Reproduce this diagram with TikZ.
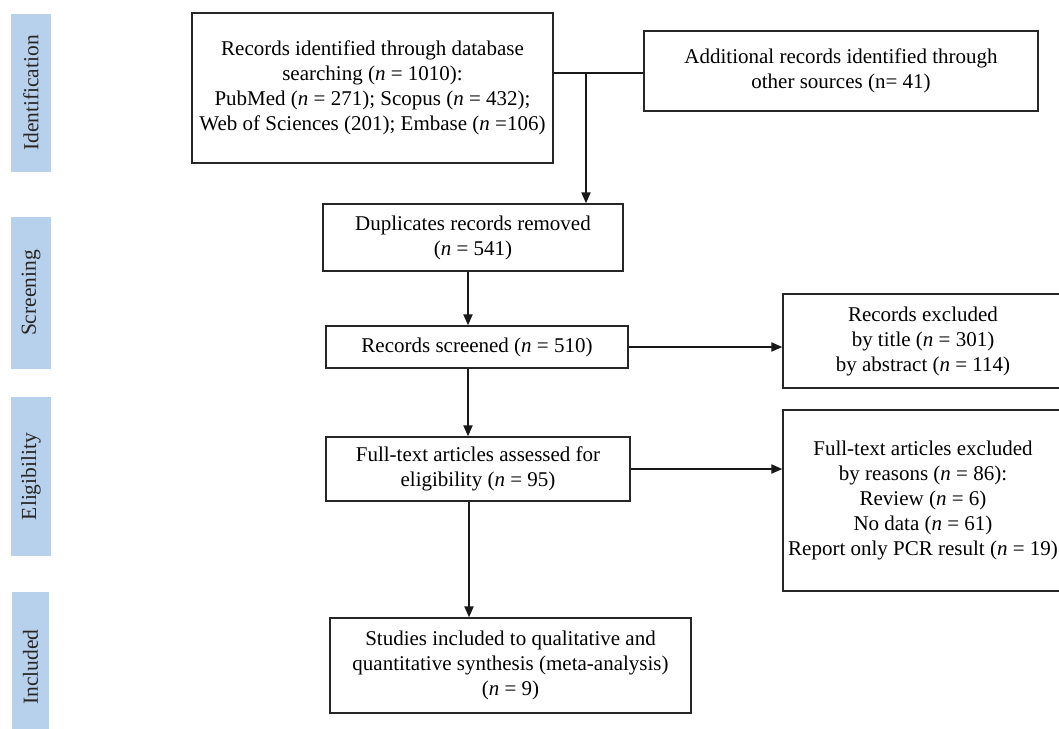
\documentclass[tikz,border=0pt]{standalone}
\usepackage{fontspec}
\setmainfont{Liberation Serif}
\usetikzlibrary{arrows.meta}
\tikzset{
  box/.style={draw=black!85, line width=1.3pt, fill=white, align=center, inner sep=0pt,
    font=\fontsize{21}{25}\selectfont},
  phase/.style={fill=phaseblue, inner sep=0pt, rotate=90, font=\fontsize{21.5}{25}\selectfont, text=black!85},
  arr/.style={line width=2pt, black!90, -{Triangle[length=11pt,width=9pt]}},
  ln/.style={line width=1.3pt, black!90}
}
\definecolor{phaseblue}{RGB}{183,208,236}
\newcommand{\nn}{\textit{n}}
\begin{document}
\begin{tikzpicture}[x=1pt,y=-1pt]
\clip (0,0) rectangle (1059,728);
\fill[white] (0,0) rectangle (1059,728);
% phase labels
\node[phase, minimum width=158pt, minimum height=40pt] (pid) at (31,93) {Identification};
\node[phase, minimum width=152pt, minimum height=40pt] (pscr) at (31,293) {Screening};
\node[phase, minimum width=159pt, minimum height=40pt] (pel) at (31,476.5) {Eligibility};
\node[phase, minimum width=150pt, minimum height=37pt] (pin) at (30.5,667) {Included};
% boxes
\node[box, minimum width=361pt, minimum height=150pt] (id) at (372.5,88)
  {Records identified through database\\searching (\nn{} = 1010):\\PubMed (\nn{} = 271); Scopus (\nn{} = 432);\\Web of Sciences (201); Embase (\nn{} =106)};
\node[box, minimum width=394pt, minimum height=80pt] (add) at (841,71)
  {Additional records identified through\\other sources (n= 41)};
\node[box, minimum width=300pt, minimum height=67pt] (dup) at (473,237.5)
  {Duplicates records removed\\(\nn{} = 541)};
\node[box, minimum width=302pt, minimum height=42pt] (scr) at (477,347)
  {Records screened (\nn{} = 510)};
\node[box, minimum width=280pt, minimum height=94pt] (exc) at (923,341)
  {Records excluded\\by title (\nn{} = 301)\\by abstract (\nn{} = 114)};
\node[box, minimum width=304pt, minimum height=64pt] (fta) at (478,469)
  {Full-text articles assessed for\\eligibility (\nn{} = 95)};
\node[box, minimum width=280pt, minimum height=181pt] (fte) at (923,500.5)
  {Full-text articles excluded\\by reasons (\nn{} = 86):\\Review (\nn{} = 6)\\No data (\nn{} = 61)\\Report only PCR result (\nn{} = 19)};
\node[box, minimum width=361pt, minimum height=95pt] (stu) at (510.5,665.5)
  {Studies included to qualitative and\\quantitative synthesis (meta-analysis)\\(\nn{} = 9)};
% connectors
\coordinate (j) at (586,73);
\draw[ln] (j -| id.east) -- (j -| add.west);
\draw[arr] (j) -- (j |- dup.north);
\coordinate (c1) at (468,0);
\draw[arr] (c1 |- dup.south) -- (c1 |- scr.north);
\draw[arr] (c1 |- scr.south) -- (c1 |- fta.north);
\draw[arr] (scr.east) -- (exc.west |- scr.east);
\draw[arr] (fta.east) -- (fte.west |- fta.east);
\coordinate (c2) at (469,0);
\draw[arr] (c2 |- fta.south) -- (c2 |- stu.north);
\end{tikzpicture}
\end{document}
